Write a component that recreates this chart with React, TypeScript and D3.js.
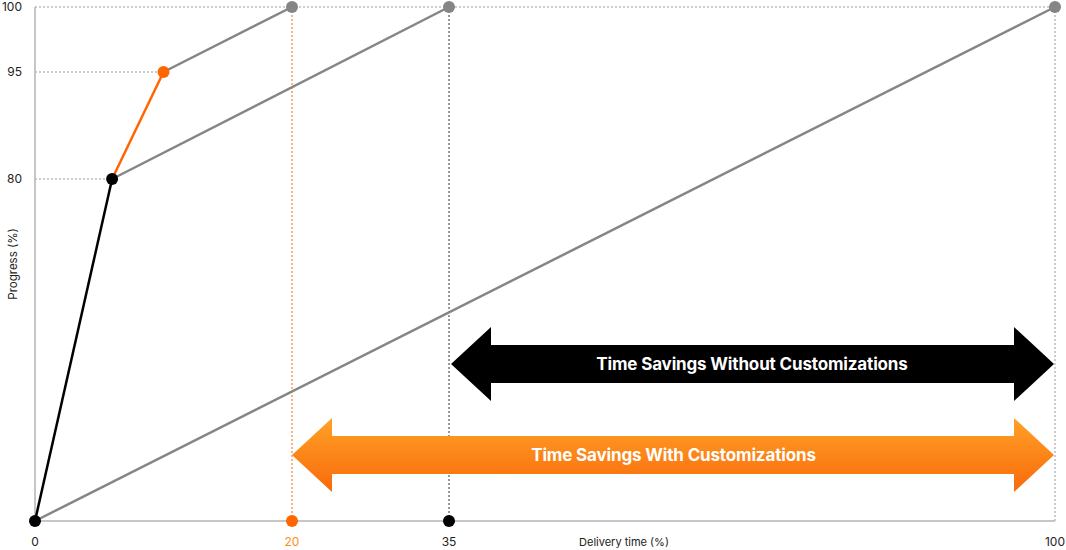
import React from "react";
import * as d3 from "d3";

const xTicks = [0, 20, 35, 100];
const yTicks = [80, 95, 100];
const grayLines: [number, number][][] = [
  [[0, 0], [100, 100]],
  [[6, 80], [35, 100]],
  [[10, 95], [20, 100]],
];
const blackLine: [number, number][] = [[0, 0], [6, 80]];
const orangeLine: [number, number][] = [[6, 80], [10, 95]];
const grayDots: [number, number][] = [[20, 100], [35, 100], [100, 100]];
const blackDots: [number, number][] = [[0, 0], [6, 80], [35, 0]];
const orangeDots: [number, number][] = [[10, 95], [20, 0]];
const arrows = [
  { label: "Time Savings Without Customizations", from: 35, to: 100, level: 0, kind: "black" },
  { label: "Time Savings With Customizations", from: 20, to: 100, level: 1, kind: "orange" },
];

const W = 1066, H = 550;
const x = d3.scaleLinear().domain([0, 20, 35, 100]).range([35, 292, 449, 1055]);
const y = d3.scaleLinear().domain([0, 80, 95, 100]).range([521, 179, 72, 7]);
const line = d3.line<[number, number]>().x(d => x(d[0])).y(d => y(d[1]));
const ORANGE = "#FF6600";
const GRAY = "#858585";
const AXIS = "#b3b3b3";
const FONT = "Inter, 'Noto Sans', sans-serif";

function arrowPath(x0: number, x1: number, cy: number) {
  const headW = 40, headH = 37, bodyH = 19;
  return `M${x0},${cy} L${x0 + headW},${cy - headH} L${x0 + headW},${cy - bodyH} L${x1 - headW},${cy - bodyH} L${x1 - headW},${cy - headH} L${x1},${cy} L${x1 - headW},${cy + headH} L${x1 - headW},${cy + bodyH} L${x0 + headW},${cy + bodyH} L${x0 + headW},${cy + headH} Z`;
}

export default function App() {
  const arrowY = [364, 455];
  return (
    <svg width={W} height={H} style={{ position: "absolute", left: 0, top: 0, fontFamily: FONT }}>
      <defs>
        <linearGradient id="og" x1="0" y1="0" x2="0" y2="1">
          <stop offset="0%" stopColor="#FFA126" />
          <stop offset="100%" stopColor="#F96A0C" />
        </linearGradient>
      </defs>
      <line x1={x(0)} x2={x(6)} y1={y(80)} y2={y(80)} stroke="#999" strokeDasharray="2,2" />
      <line x1={x(0)} x2={x(10)} y1={y(95)} y2={y(95)} stroke="#999" strokeDasharray="2,2" />
      <line x1={x(0)} x2={x(100)} y1={y(100)} y2={y(100)} stroke="#999" strokeDasharray="2,2" />
      <line x1={x(20)} x2={x(20)} y1={y(100)} y2={y(0)} stroke={ORANGE} strokeDasharray="2,2" />
      <line x1={x(35)} x2={x(35)} y1={y(100)} y2={y(0)} stroke="#333" strokeDasharray="2,2" />
      <line x1={x(100)} x2={x(100)} y1={y(100)} y2={y(0)} stroke="#999" strokeDasharray="2,2" />
      <line x1={x(0)} x2={x(0)} y1={y(100)} y2={y(0)} stroke={AXIS} strokeWidth={1.5} />
      <line x1={x(0)} x2={x(100)} y1={y(0)} y2={y(0)} stroke={AXIS} strokeWidth={1.5} />
      {arrows.map((a, i) => (
        <g key={i}>
          <path d={arrowPath(x(a.from) + 2 * (1 - a.level), x(a.to) - 1, arrowY[i])} fill={a.kind === "black" ? "#000" : "url(#og)"} />
          <text x={(x(a.from) + x(a.to)) / 2} y={arrowY[i]} dy="0.35em" textAnchor="middle" fill="#fff" fontWeight={700} fontSize={17} letterSpacing="-0.15">{a.label}</text>
        </g>
      ))}
      {grayLines.map((l, i) => (
        <path key={i} d={line(l) || ""} fill="none" stroke={GRAY} strokeWidth={2.5} />
      ))}
      <path d={line(blackLine) || ""} fill="none" stroke="#000" strokeWidth={2.5} />
      <path d={line(orangeLine) || ""} fill="none" stroke={ORANGE} strokeWidth={2.5} />
      {grayDots.map((d, i) => <circle key={i} cx={x(d[0])} cy={y(d[1])} r={6} fill={GRAY} />)}
      {blackDots.map((d, i) => <circle key={i} cx={x(d[0])} cy={y(d[1])} r={6} fill="#000" />)}
      {orangeDots.map((d, i) => <circle key={i} cx={x(d[0])} cy={y(d[1])} r={6} fill={ORANGE} />)}
      {xTicks.map(t => (
        <text key={t} x={x(t)} y={546} textAnchor="middle" fontSize={12} fill={t === 20 ? "#FF8C1A" : "#222"}>{t}</text>
      ))}
      {yTicks.map(t => (
        <text key={t} x={22} y={y(t)} dy="0.35em" textAnchor="end" fontSize={12} fill="#222">{t}</text>
      ))}
      <text x={624} y={546} textAnchor="middle" fontSize={11} fill="#222">Delivery time (%)</text>
      <text transform={`translate(17,${264}) rotate(-90)`} textAnchor="middle" fontSize={11.5} fill="#222">Progress (%)</text>
    </svg>
  );
}
